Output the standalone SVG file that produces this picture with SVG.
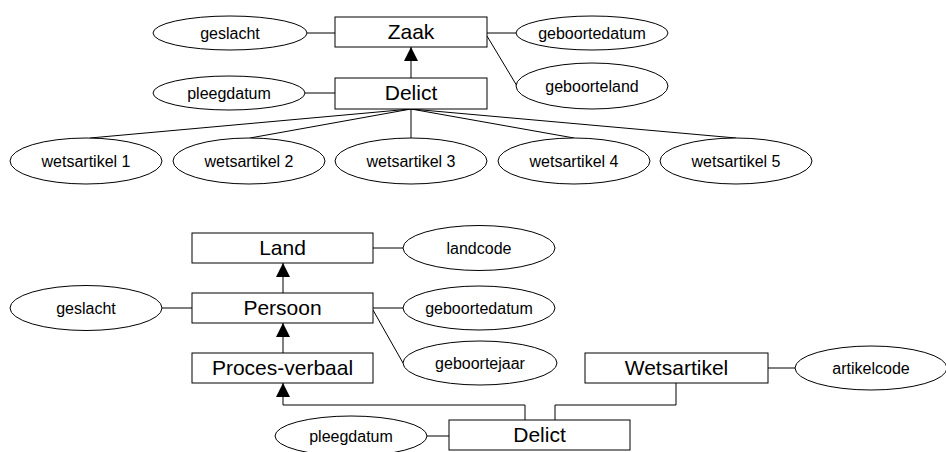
<svg xmlns="http://www.w3.org/2000/svg" width="946" height="452" viewBox="0 0 946 452">
<style>
.box{fill:#fff;stroke:#000;stroke-width:1}
.ell{fill:#fff;stroke:#000;stroke-width:1}
.ln{fill:none;stroke:#000;stroke-width:1}
.bt{font-family:"Liberation Sans",Arial,sans-serif;font-size:21px;text-anchor:middle;fill:#000}
.et{font-family:"Liberation Sans",Arial,sans-serif;font-size:16px;text-anchor:middle;fill:#000}
</style>
<defs>
<marker id="arr" markerUnits="userSpaceOnUse" markerWidth="14" markerHeight="14" viewBox="0 0 14 14" refX="14" refY="7" orient="auto">
<path d="M0,0 L14,7 L0,14 Z" fill="#000"/>
</marker>
</defs>
<g id="connectors">
<line class="ln" x1="307" y1="33" x2="335" y2="33"/>
<line class="ln" x1="487" y1="33" x2="517" y2="33"/>
<line class="ln" x1="487" y1="36" x2="517" y2="86"/>
<line class="ln" x1="411" y1="78" x2="411" y2="47" marker-end="url(#arr)"/>
<line class="ln" x1="305" y1="93" x2="335" y2="93"/>
<line class="ln" x1="411" y1="109" x2="90" y2="138"/>
<line class="ln" x1="411" y1="109" x2="250" y2="138"/>
<line class="ln" x1="411" y1="109" x2="411" y2="138"/>
<line class="ln" x1="411" y1="109" x2="574" y2="138"/>
<line class="ln" x1="411" y1="109" x2="736" y2="138"/>
<line class="ln" x1="373" y1="248" x2="403" y2="248"/>
<line class="ln" x1="283" y1="293" x2="283" y2="263" marker-end="url(#arr)"/>
<line class="ln" x1="162" y1="308" x2="192" y2="308"/>
<line class="ln" x1="373" y1="308" x2="403" y2="308"/>
<line class="ln" x1="373" y1="310" x2="403" y2="363"/>
<line class="ln" x1="283" y1="353" x2="283" y2="323" marker-end="url(#arr)"/>
<line class="ln" x1="768" y1="368" x2="795" y2="368"/>
<polyline class="ln" points="525,420 525,405 283,405 283,383" marker-end="url(#arr)"/>
<polyline class="ln" points="676,383 676,405 555,405 555,420"/>
<line class="ln" x1="427" y1="436" x2="449" y2="436"/>
</g>
<g id="n-zaak"><rect class="box" x="335" y="17" width="152" height="30"/><text class="bt" x="411" y="39">Zaak</text></g>
<g id="n-delict1"><rect class="box" x="335" y="78" width="152" height="31"/><text class="bt" x="411" y="100">Delict</text></g>
<g id="n-geslacht1"><ellipse class="ell" cx="230" cy="33" rx="77" ry="17"/><text class="et" x="230" y="39">geslacht</text></g>
<g id="n-pleegdatum1"><ellipse class="ell" cx="229" cy="93" rx="76" ry="17"/><text class="et" x="229" y="99">pleegdatum</text></g>
<g id="n-geboortedatum1"><ellipse class="ell" cx="592" cy="33" rx="76" ry="17"/><text class="et" x="592" y="39">geboortedatum</text></g>
<g id="n-geboorteland"><ellipse class="ell" cx="592" cy="86" rx="76" ry="23"/><text class="et" x="592" y="92">geboorteland</text></g>
<g id="n-wa1"><ellipse class="ell" cx="86" cy="161" rx="76" ry="23"/><text class="et" x="86" y="167">wetsartikel 1</text></g>
<g id="n-wa2"><ellipse class="ell" cx="249" cy="161" rx="76" ry="23"/><text class="et" x="249" y="167">wetsartikel 2</text></g>
<g id="n-wa3"><ellipse class="ell" cx="411" cy="161" rx="76" ry="23"/><text class="et" x="411" y="167">wetsartikel 3</text></g>
<g id="n-wa4"><ellipse class="ell" cx="574" cy="161" rx="76" ry="23"/><text class="et" x="574" y="167">wetsartikel 4</text></g>
<g id="n-wa5"><ellipse class="ell" cx="736" cy="161" rx="76" ry="23"/><text class="et" x="736" y="167">wetsartikel 5</text></g>
<g id="n-land"><rect class="box" x="192" y="233" width="181" height="30"/><text class="bt" x="282.5" y="255">Land</text></g>
<g id="n-persoon"><rect class="box" x="192" y="293" width="181" height="30"/><text class="bt" x="282.5" y="315">Persoon</text></g>
<g id="n-pv"><rect class="box" x="192" y="353" width="181" height="30"/><text class="bt" x="282.5" y="375">Proces-verbaal</text></g>
<g id="n-wetsartikel"><rect class="box" x="585" y="353" width="183" height="30"/><text class="bt" x="676.5" y="375">Wetsartikel</text></g>
<g id="n-delict2"><rect class="box" x="449" y="420" width="181" height="30"/><text class="bt" x="539.5" y="442">Delict</text></g>
<g id="n-landcode"><ellipse class="ell" cx="479" cy="248" rx="76" ry="22.5"/><text class="et" x="479" y="254">landcode</text></g>
<g id="n-geslacht2"><ellipse class="ell" cx="86" cy="308" rx="76" ry="22.5"/><text class="et" x="86" y="314">geslacht</text></g>
<g id="n-geboortedatum2"><ellipse class="ell" cx="479" cy="308" rx="76" ry="22"/><text class="et" x="479" y="314">geboortedatum</text></g>
<g id="n-geboortejaar"><ellipse class="ell" cx="480" cy="363" rx="77" ry="22"/><text class="et" x="480" y="369">geboortejaar</text></g>
<g id="n-artikelcode"><ellipse class="ell" cx="871" cy="368" rx="76" ry="22"/><text class="et" x="871" y="374">artikelcode</text></g>
<g id="n-pleegdatum2"><ellipse class="ell" cx="351" cy="436" rx="76" ry="20"/><text class="et" x="351" y="442">pleegdatum</text></g>
</svg>
